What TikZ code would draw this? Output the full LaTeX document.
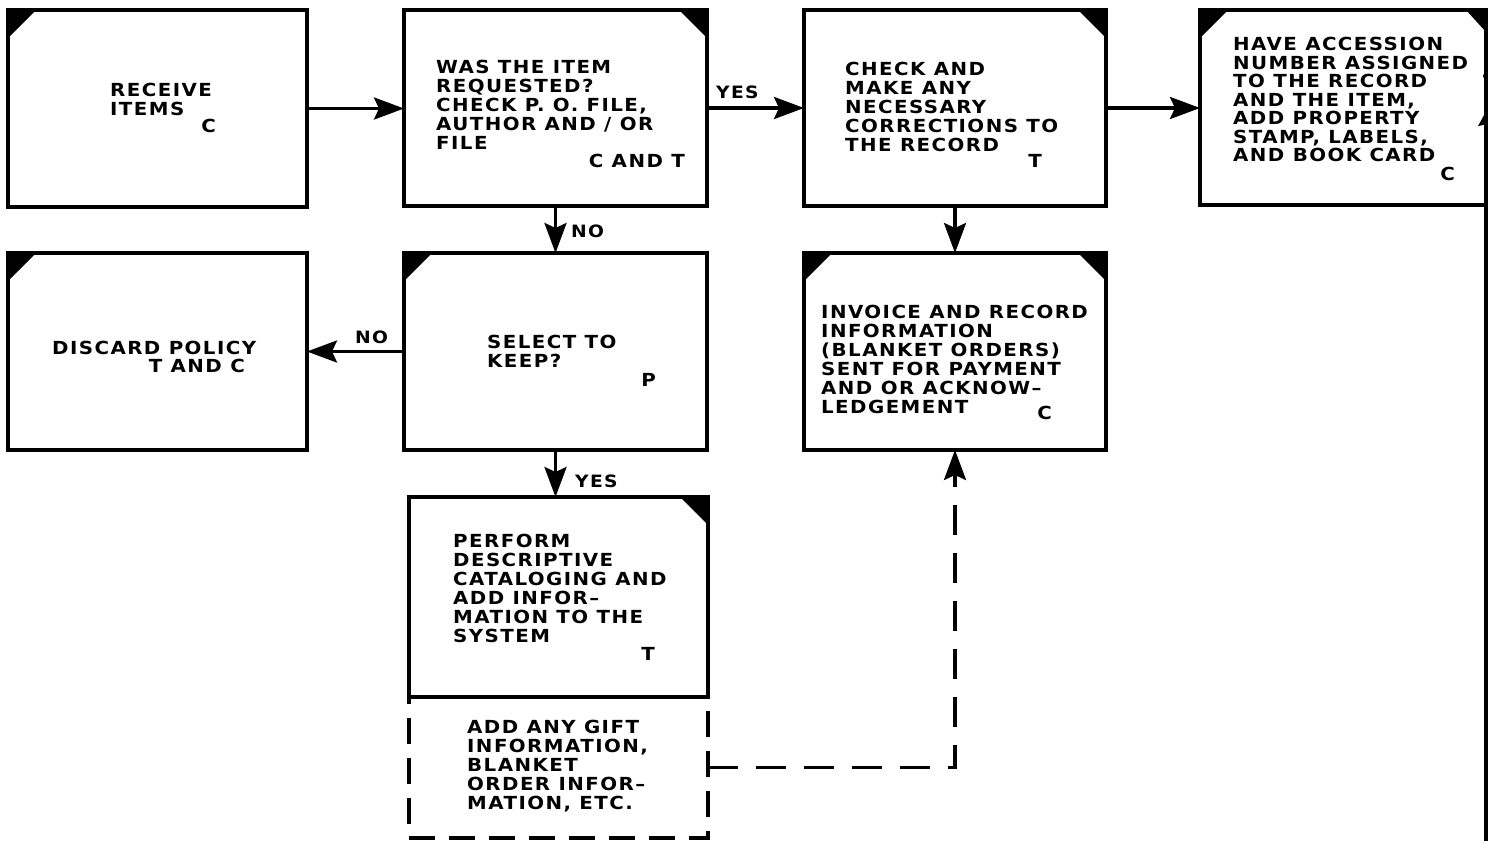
\documentclass[tikz,border=0pt]{standalone}
\usepackage{fontspec}
\newfontfamily\lbl[FakeStretch=1.1,LetterSpace=8]{DejaVu Sans}
\usetikzlibrary{arrows.meta}
\begin{document}
\begin{tikzpicture}[x=1pt,y=-1pt,
  box/.style={draw, line width=3.4pt, inner sep=0pt, outer sep=0pt},
  dbox/.style={draw, line width=3.4pt, inner sep=0pt, outer sep=0pt, dash pattern=on 26pt off 14pt},
  txt/.style={font=\lbl\bfseries\fontsize{18}{19}\selectfont, inner sep=0pt, align=left, anchor=north west},
  txtb/.style={font=\lbl\bfseries\fontsize{18}{18.5}\selectfont, inner sep=0pt, align=left, anchor=north west},
  role/.style={font=\lbl\bfseries\fontsize{18}{19}\selectfont, inner sep=0pt, anchor=base east},
  tag/.style={font=\lbl\bfseries\fontsize{17}{18}\selectfont, inner sep=0pt, anchor=base west},
  conn/.style={line width=3.4pt, -{Stealth[length=30pt,width=22pt,inset=5pt]}},
  dconn/.style={conn, dash pattern=on 30pt off 18pt},
]
\useasboundingbox (0,0) rectangle (1488,841);

% process boxes
\node[box, minimum width=299pt, minimum height=197pt] (b1) at (157.5,108.5) {};
\node[box, minimum width=303pt, minimum height=196pt] (b2) at (555.5,108) {};
\node[box, minimum width=302pt, minimum height=196pt] (b3) at (955,108) {};
\node[box, minimum width=286pt, minimum height=195pt] (b4) at (1343,107.5) {};
\node[box, minimum width=299pt, minimum height=197pt] (b5) at (157.5,351.5) {};
\node[box, minimum width=303pt, minimum height=197pt] (b6) at (555.5,351.5) {};
\node[box, minimum width=302pt, minimum height=197pt] (b7) at (955,351.5) {};
\node[dbox, minimum width=299pt, minimum height=141pt] (b8x) at (558.5,767.5) {};
\node[box, minimum width=299pt, minimum height=200pt] (b8) at (558.5,597) {};

% black corner marks
\fill (b1.north west) -- ++(28,0) -- ++(-28,28) -- cycle;
\fill (b2.north east) -- ++(-28,0) -- ++(28,28) -- cycle;
\fill (b3.north east) -- ++(-28,0) -- ++(28,28) -- cycle;
\fill (b4.north west) -- ++(28,0) -- ++(-28,28) -- cycle;
\fill (b4.north east) -- ++(-20,0) -- ++(20,22) -- cycle;
\fill (b5.north west) -- ++(28,0) -- ++(-28,28) -- cycle;
\fill (b6.north west) -- ++(28,0) -- ++(-28,28) -- cycle;
\fill (b7.north west) -- ++(28,0) -- ++(-28,28) -- cycle;
\fill (b7.north east) -- ++(-28,0) -- ++(28,28) -- cycle;
\fill (b8.north east) -- ++(-28,0) -- ++(28,28) -- cycle;

% box texts
\node[txt] (t1) at (110,83) {RECEIVE\\ITEMS};
\node[role] (r1) at (216,132) {C};
\node[txt] (t2) at (436,60) {WAS THE ITEM\\REQUESTED?\\CHECK P. O. FILE,\\AUTHOR AND / OR\\FILE};
\node[role] (r2) at (685,167) {C AND T};
\node[txt] (t3) at (845,62) {CHECK AND\\MAKE ANY\\NECESSARY\\CORRECTIONS TO\\THE RECORD};
\node[role] (r3) at (1042,167) {T};
\node[txtb] (t4) at (1233,37) {HAVE ACCESSION\\NUMBER ASSIGNED\\TO THE RECORD\\AND THE ITEM,\\ADD PROPERTY\\STAMP, LABELS,\\AND BOOK CARD};
\node[role] (r4) at (1455,180) {C};
\node[txt] (t5) at (52,341) {DISCARD POLICY};
\node[role] (r5) at (245,372) {T AND C};
\node[txt] (t6) at (487,335) {SELECT TO\\KEEP?};
\node[role] (r6) at (656,386) {P};
\node[txt] (t7) at (821,305) {INVOICE AND RECORD\\INFORMATION\\(BLANKET ORDERS)\\SENT FOR PAYMENT\\AND OR ACKNOW–\\LEDGEMENT};
\node[role] (r7) at (1052,419) {C};
\node[txt] (t8) at (453,534) {PERFORM\\DESCRIPTIVE\\CATALOGING AND\\ADD INFOR–\\MATION TO THE\\SYSTEM};
\node[role] (r8) at (655,660) {T};
\node[txt] (t9) at (467,720) {ADD ANY GIFT\\INFORMATION,\\BLANKET\\ORDER INFOR–\\MATION, ETC.};

% connectors
\draw[conn] (b1.east) -- (b1.east -| b2.west);
\draw[conn] (b2.east) -- (b2.east -| b3.west);
\draw[conn] (b3.east) -- (b3.east -| b4.west);
\draw[conn] (b2.south) -- (b6.north);
\draw[conn] (b6.west) -- (b5.east);
\draw[conn] (b3.south) -- (b7.north);
\draw[conn] (b6.south) -- (b6.south |- b8.north);
\draw[dconn] (b8x.east) -| (b7.south);

% branch labels
\node[tag] (y1) at (716,98) {YES};
\node[tag] (n1) at (571,237) {NO};
\node[tag] (n2) at (355,343) {NO};
\node[tag] (y2) at (575,487) {YES};

% line running down the right edge
\coordinate (edge) at (1486,841);
\draw[line width=3.4pt] (b4.south east) -- (edge);
\fill (1478,126) -- (1488,108) -- (1488,124) -- cycle;
\fill (1486,76) circle (3pt);
\end{tikzpicture}
\end{document}
